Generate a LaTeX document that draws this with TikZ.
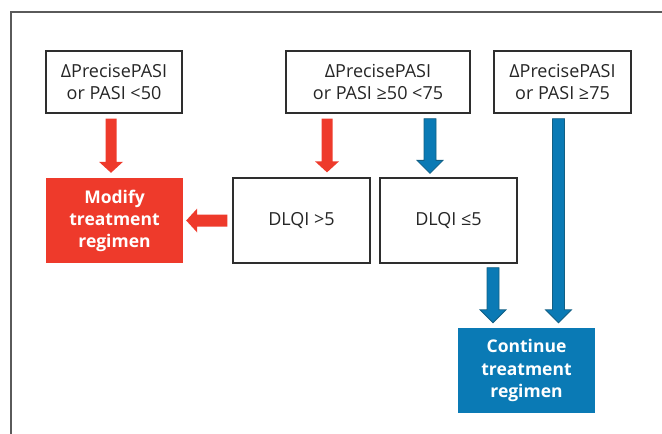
\documentclass[tikz,border=0pt]{standalone}
\usepackage{fontspec}
\setmainfont{Open Sans}
\usetikzlibrary{calc}
\definecolor{redc}{HTML}{EE3A2B}
\definecolor{bluec}{HTML}{0A7AB5}
\definecolor{blueedge}{HTML}{125F84}
\definecolor{boxedge}{HTML}{2E2E2E}
\definecolor{framec}{HTML}{5A5A5A}
\newcommand\blockarrow[6]{%
  \coordinate (s) at (#2);
  \coordinate (t) at (#3);
  \coordinate (h) at ($(t)!#6!(s)$);
  \filldraw[#1] ($(s)!#4!90:(t)$) -- ($(h)!#4!90:(t)$) -- ($(h)!#5!90:(t)$) -- (t)
    -- ($(h)!#5!-90:(t)$) -- ($(h)!#4!-90:(t)$) -- ($(s)!#4!-90:(t)$) -- cycle;
}
\begin{document}
\begin{tikzpicture}[x=1pt,y=-1pt,
  txt/.style={font=\fontsize{18}{22.5}\selectfont, align=center, inner sep=0pt},
  plainbox/.style={txt, draw=boxedge, line width=1.3pt, fill=white, text=black!85},
  redbox/.style={txt, fill=redc, text=white, font=\fontsize{17.5}{22}\selectfont\bfseries},
  bluebox/.style={txt, fill=bluec, text=white, font=\fontsize{17.5}{22.5}\selectfont\bfseries},
  redarr/.style={fill=redc, draw=none},
  bluearr/.style={fill=bluec, draw=blueedge, line width=0.8pt, line join=miter}]
\useasboundingbox (0,0) rectangle (662,434);
\draw[framec, line width=1.3pt] (11,434) -- (11,12) -- (662,12);

\node[plainbox, minimum width=136pt, minimum height=62pt] (A) at (114,82) {ΔPrecisePASI\\or PASI <50};
\node[plainbox, minimum width=184pt, minimum height=62pt] (B) at (378,82) {ΔPrecisePASI\\or PASI ≥50 <75};
\node[plainbox, minimum width=137pt, minimum height=62pt] (C) at (562.5,82) {ΔPrecisePASI\\or PASI ≥75};
\node[redbox, minimum width=137pt, minimum height=85pt] (M) at (114.5,220.5) {Modify\\treatment\\regimen};
\node[plainbox, minimum width=137pt, minimum height=85pt] (D1) at (301.5,220.5) {DLQI >5};
\node[plainbox, minimum width=137pt, minimum height=85pt] (D2) at (448.5,220.5) {DLQI ≤5};
\node[bluebox, minimum width=137pt, minimum height=85pt] (K) at (526.5,370.5) {Continue\\treatment\\regimen};

\blockarrow{redarr}{$(A.south)+(-3,5)$}{$(M.north)+(-3.5,-5)$}{5.5pt}{12pt}{11pt}
\blockarrow{redarr}{$(B.south)+(-51,5)$}{$(D1.north)+(25.5,-5)$}{5.5pt}{12pt}{11pt}
\blockarrow{redarr}{$(D1.west)+(-5,0)$}{$(M.east)+(3,0)$}{6pt}{12pt}{11pt}
\blockarrow{bluearr}{$(B.south)+(52,5)$}{$(D2.north)+(-18.5,-4)$}{6pt}{13pt}{13pt}
\blockarrow{bluearr}{$(C.south)+(-4,5)$}{$(K.north)+(32,-5)$}{6pt}{13pt}{13pt}
\blockarrow{bluearr}{$(D2.south)+(44.5,4)$}{$(K.north)+(-33.5,-5)$}{6pt}{13pt}{13pt}
\end{tikzpicture}
\end{document}
